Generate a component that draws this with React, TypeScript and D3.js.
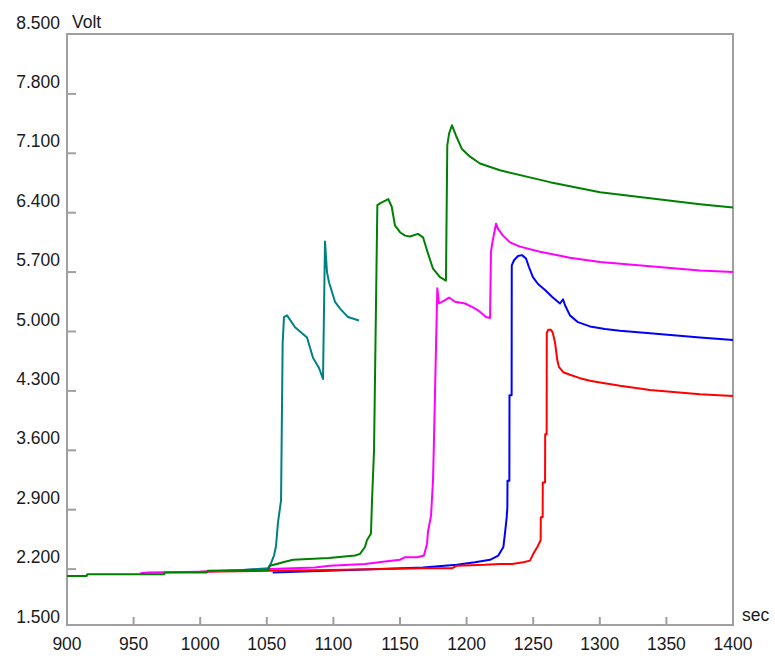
import React, { useEffect, useRef } from 'react';
import * as d3 from 'd3';

// readings per run: time in sec, voltage in Volt
const tealTime = [1032, 1050.9, 1053.2, 1055.4, 1056.9, 1058.4, 1060.7, 1061.9, 1062.9, 1065.2, 1071.2, 1080.2, 1084.7, 1089.2, 1092.2, 1093.7, 1095.2, 1096.7, 1101.2, 1105, 1111, 1119.2];
const tealVolt = [2.19, 2.21, 2.27, 2.36, 2.47, 2.75, 3.01, 4.86, 5.17, 5.19, 5.05, 4.93, 4.69, 4.57, 4.44, 6.06, 5.70, 5.58, 5.35, 5.27, 5.17, 5.13];

const greenTime = [900, 914.8, 915.2, 973, 973.5, 1005, 1005.5, 1050.9, 1052.4, 1057.4, 1062.2, 1069.7, 1096.7, 1116.2, 1120, 1123.7, 1125.2, 1128.2, 1129, 1130.5, 1133, 1135, 1141.2, 1143.8, 1146.2, 1150, 1153.8, 1157.5, 1163.5, 1167.3, 1171, 1174.8, 1180, 1184.5, 1185.5, 1186.8, 1189, 1192, 1196.5, 1202.6, 1210, 1225, 1262.6, 1300.2, 1337.7, 1375.2, 1400];
const greenVolt = [2.12, 2.12, 2.14, 2.14, 2.16, 2.16, 2.18, 2.19, 2.24, 2.26, 2.28, 2.31, 2.33, 2.36, 2.38, 2.46, 2.54, 2.62, 3.01, 3.60, 6.49, 6.51, 6.56, 6.47, 6.25, 6.17, 6.13, 6.12, 6.15, 6.11, 5.92, 5.74, 5.64, 5.60, 7.19, 7.33, 7.43, 7.31, 7.15, 7.06, 6.98, 6.90, 6.76, 6.64, 6.57, 6.50, 6.46];

const magentaTime = [955, 960.8, 1000, 1052.4, 1086.2, 1097.4, 1123.7, 1138.7, 1150, 1153.8, 1162.8, 1168, 1170.3, 1171, 1173.3, 1174.8, 1175.5, 1178, 1179.3, 1183.8, 1186.8, 1191.3, 1198.8, 1204.1, 1208.6, 1214.6, 1217.6, 1218.3, 1219.6, 1222.1, 1223.6, 1227.3, 1232.6, 1240.1, 1255.1, 1277.6, 1300.2, 1337.7, 1375.2, 1400];
const magentaVolt = [2.15, 2.16, 2.17, 2.20, 2.22, 2.24, 2.26, 2.29, 2.31, 2.34, 2.34, 2.36, 2.50, 2.64, 2.83, 3.25, 3.72, 5.51, 5.33, 5.37, 5.40, 5.35, 5.33, 5.29, 5.25, 5.17, 5.16, 5.94, 6.07, 6.27, 6.21, 6.13, 6.05, 6.00, 5.94, 5.87, 5.82, 5.77, 5.72, 5.70];

const blueTime = [1054.4, 1095, 1135, 1167.3, 1192.6, 1206.3, 1217.6, 1223.8, 1227.6, 1228.8, 1230.1, 1230.6, 1230.7, 1232.1, 1232.2, 1233.8, 1233.9, 1235.6, 1238.6, 1241.6, 1244.6, 1246.8, 1249.8, 1253.6, 1258.9, 1264.1, 1270.1, 1272.4, 1273.9, 1277.6, 1283.6, 1292.6, 1303.9, 1315.2, 1337.7, 1375.2, 1400];
const blueVolt = [2.16, 2.18, 2.20, 2.22, 2.25, 2.28, 2.31, 2.36, 2.46, 2.62, 2.81, 2.93, 3.24, 3.24, 4.25, 4.25, 5.78, 5.84, 5.89, 5.90, 5.86, 5.76, 5.64, 5.56, 5.49, 5.41, 5.33, 5.38, 5.31, 5.19, 5.11, 5.06, 5.03, 5.01, 4.98, 4.93, 4.90];

const redTime = [1000, 1052.4, 1097.4, 1167.3, 1189, 1192.8, 1213.8, 1225.1, 1234.1, 1242.6, 1247.6, 1250.1, 1253.1, 1255.6, 1255.7, 1257.1, 1257.2, 1258.9, 1259.0, 1260.1, 1260.2, 1261.2, 1263.3, 1264.6, 1266.4, 1268.1, 1269.4, 1272.6, 1277.6, 1285.1, 1292.6, 1300.2, 1315.2, 1337.7, 1375.2, 1400];
const redVolt = [2.17, 2.18, 2.19, 2.21, 2.21, 2.24, 2.25, 2.26, 2.26, 2.28, 2.30, 2.38, 2.46, 2.54, 2.81, 2.81, 3.22, 3.22, 3.79, 3.79, 4.98, 5.02, 5.02, 4.99, 4.87, 4.66, 4.58, 4.52, 4.49, 4.45, 4.42, 4.40, 4.36, 4.31, 4.26, 4.24];

const xTicks = [900, 950, 1000, 1050, 1100, 1150, 1200, 1250, 1300, 1350, 1400];
const yTicks = [1.5, 2.2, 2.9, 3.6, 4.3, 5.0, 5.7, 6.4, 7.1, 7.8, 8.5];

const series = [
    { color: '#0000ff', time: blueTime, volt: blueVolt },
    { color: '#ff0000', time: redTime, volt: redVolt },
    { color: '#ff00ff', time: magentaTime, volt: magentaVolt },
    { color: '#008080', time: tealTime, volt: tealVolt },
    { color: '#008000', time: greenTime, volt: greenVolt },
];

export default function App() {
    const ref = useRef<SVGSVGElement>(null);

    useEffect(() => {
        const svg = d3.select(ref.current);
        svg.selectAll('*').remove();

        const left = 67, right = 733, top = 34, bottom = 625;
        const font = "'Liberation Sans', Arial, sans-serif";

        const x = d3.scaleLinear().domain([900, 1400]).range([left, right]);
        const y = d3.scaleLinear().domain([1.5, 8.5]).range([628.5, 34.5]);

        // frame
        svg.append('rect')
            .attr('x', left)
            .attr('y', top)
            .attr('width', right - left)
            .attr('height', bottom - top)
            .attr('fill', 'none')
            .attr('stroke', '#a0a0a0')
            .attr('stroke-width', 2);

        // y ticks point inward, labels sit a bit above the tick
        svg.append('g').selectAll('line')
            .data(yTicks.slice(1, -1))
            .enter().append('line')
            .attr('x1', left)
            .attr('x2', left + 9)
            .attr('y1', d => y(d))
            .attr('y2', d => y(d))
            .attr('stroke', '#a0a0a0')
            .attr('stroke-width', 2);

        svg.append('g').selectAll('text')
            .data(yTicks)
            .enter().append('text')
            .attr('x', 60)
            .attr('y', d => y(d) - 6)
            .attr('text-anchor', 'end')
            .attr('font-family', font)
            .attr('font-size', 17.5)
            .attr('fill', '#1a1a1a')
            .text(d => d3.format('.3f')(d));

        // x ticks point upward
        svg.append('g').selectAll('line')
            .data(xTicks.slice(1, -1))
            .enter().append('line')
            .attr('x1', d => x(d))
            .attr('x2', d => x(d))
            .attr('y1', bottom)
            .attr('y2', bottom - 8)
            .attr('stroke', '#a0a0a0')
            .attr('stroke-width', 2);

        svg.append('g').selectAll('text')
            .data(xTicks)
            .enter().append('text')
            .attr('x', d => x(d))
            .attr('y', 650)
            .attr('text-anchor', 'middle')
            .attr('font-family', font)
            .attr('font-size', 17.5)
            .attr('fill', '#1a1a1a')
            .text(d => d);

        // axis units
        svg.append('text')
            .attr('x', 72).attr('y', 28)
            .attr('font-family', font).attr('font-size', 17.5).attr('fill', '#1a1a1a')
            .text('Volt');
        svg.append('text')
            .attr('x', 742).attr('y', 621)
            .attr('font-family', font).attr('font-size', 17.5).attr('fill', '#1a1a1a')
            .text('sec');

        const line = d3.line<[number, number]>()
            .x(d => x(d[0]))
            .y(d => y(d[1]));

        series.forEach(s => {
            const pts = s.time.map((t, i) => [t, s.volt[i]] as [number, number]);
            svg.append('path')
                .datum(pts)
                .attr('d', line)
                .attr('fill', 'none')
                .attr('stroke', s.color)
                .attr('stroke-width', 2)
                .attr('stroke-linejoin', 'round');
        });
    }, []);

    return (
        <div style={{ position: 'absolute', left: 0, top: 0 }}>
            <svg ref={ref} width={775} height={658} />
        </div>
    );
}
